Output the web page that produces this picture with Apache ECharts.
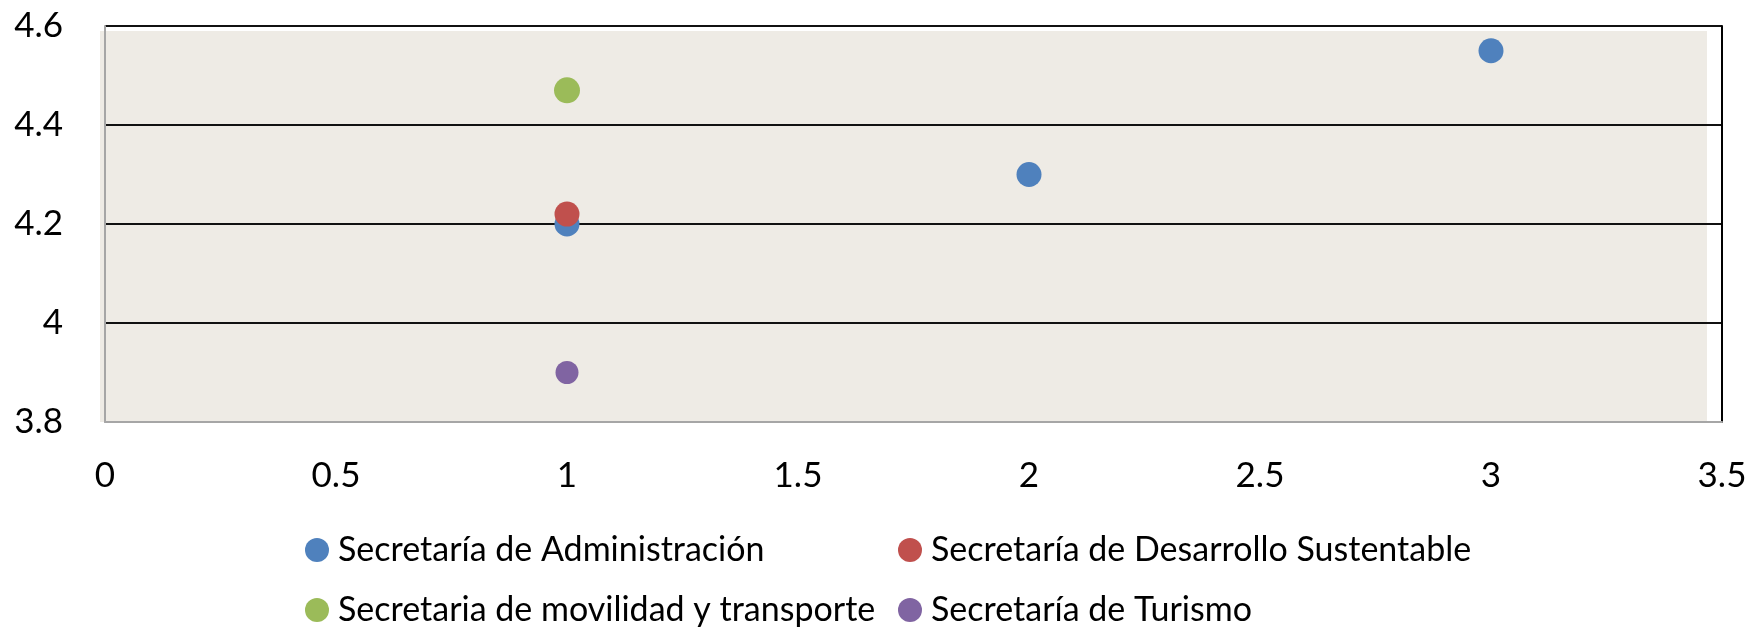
<!DOCTYPE html>
<html>
<head>
<meta charset="utf-8">
<script src="https://cdn.jsdelivr.net/npm/echarts@6/dist/echarts.min.js"></script>
<style>
  html, body { margin: 0; padding: 0; background: #fff; }
  #chart { width: 1752px; height: 627px; }
</style>
</head>
<body>
<div id="chart"></div>
<script>
// series names
const seriesNames = [
  'Secretaría de Administración',
  'Secretaría de Desarrollo Sustentable',
  'Secretaria de movilidad y transporte',
  'Secretaría de Turismo'
]
// [x, y] pairs per series
const administracion = [[1, 4.2], [2, 4.3], [3, 4.55]]
const desarrollo = [[1, 4.22]]
const movilidad = [[1, 4.47]]
const turismo = [[1, 3.9]]
const colors = ['#4F81BD', '#C0504D', '#9BBB59', '#8064A2']

const chart = echarts.init(document.getElementById('chart'))
const font = 'Lato, "Open Sans", sans-serif'

// one legend per entry, laid out as two columns like the original
const legendSlots = [[305, 530], [898, 530], [305, 590], [898, 590]]
const legends = legendSlots.map(([left, top], i) => ({
  left,
  top,
  padding: 0,
  itemWidth: 24,
  itemHeight: 24,
  itemGap: 0,
  icon: 'circle',
  textStyle: { fontFamily: font, fontSize: 34, color: '#000', lineHeight: 40, padding: [0, 0, 0, 4] },
  data: [seriesNames[i]]
}))

chart.setOption({
  animation: false,
  color: colors,
  graphic: [{
    type: 'rect',
    z: -10,
    shape: { x: 100, y: 31, width: 1607, height: 391 },
    style: { fill: '#EEEBE5' },
    silent: true
  }],
  legend: legends,
  grid: { left: 105, right: 30, top: 26, bottom: 205 },
  xAxis: {
    type: 'value',
    min: 0,
    max: 3.5,
    interval: 0.5,
    axisLine: { show: true, lineStyle: { color: '#A6A6A6', width: 2 } },
    axisTick: { show: false },
    splitLine: { show: false },
    axisLabel: { fontFamily: font, fontSize: 35, color: '#000', margin: 36 }
  },
  yAxis: [{
    type: 'value',
    min: 3.8,
    max: 4.6,
    interval: 0.2,
    axisLine: { show: true, lineStyle: { color: '#A6A6A6', width: 2 } },
    axisTick: { show: false },
    splitLine: {
      show: true,
      lineStyle: { color: ['transparent', '#111', '#111', '#111', '#111'], width: 2 }
    },
    axisLabel: {
      fontFamily: font, fontSize: 35, color: '#000', margin: 42,
      formatter: v => String(Math.round(v * 10) / 10)
    }
  }, {
    type: 'value',
    position: 'right',
    min: 3.8,
    max: 4.6,
    interval: 0.2,
    axisLine: { show: true, lineStyle: { color: '#000', width: 2 } },
    axisTick: { show: false },
    axisLabel: { show: false },
    splitLine: { show: false }
  }],
  series: [
    { name: seriesNames[0], type: 'scatter', symbolSize: 25, itemStyle: { opacity: 1 }, data: administracion },
    { name: seriesNames[1], type: 'scatter', symbolSize: 25, itemStyle: { opacity: 1 }, data: desarrollo },
    { name: seriesNames[2], type: 'scatter', symbolSize: 26, itemStyle: { opacity: 1 }, data: movilidad },
    { name: seriesNames[3], type: 'scatter', symbolSize: 23, itemStyle: { opacity: 1 }, data: turismo }
  ]
})
</script>
</body>
</html>
